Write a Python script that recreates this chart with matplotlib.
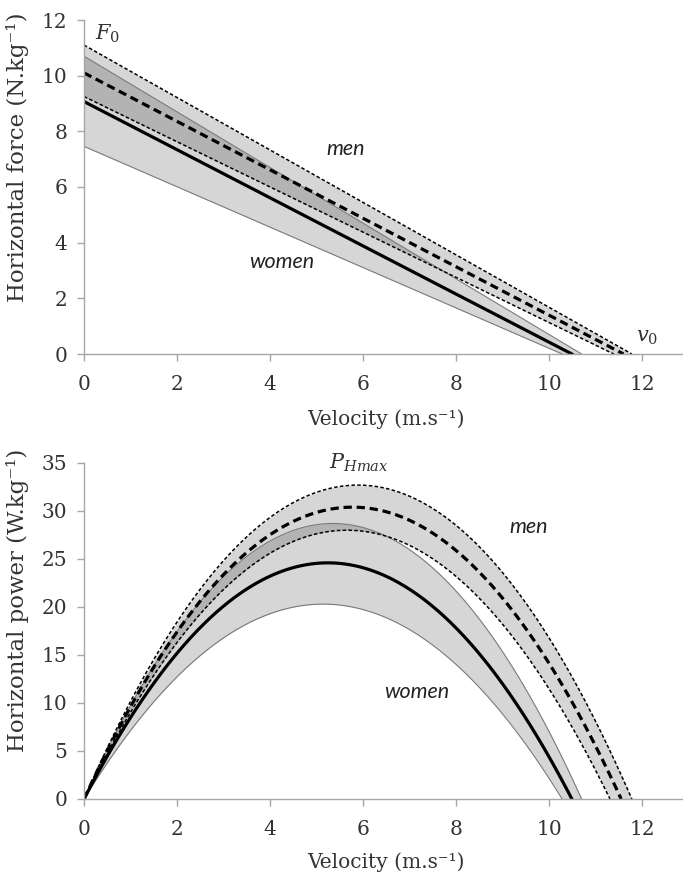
import numpy as np
import matplotlib
matplotlib.use("Agg")
import matplotlib.pyplot as plt

# ---------------- data ----------------
# Force-velocity profiles: [upper bound, mean, lower bound]
men_F0 = [11.1, 10.1, 9.25]          # N/kg
men_v0 = [11.78, 11.6, 11.39]        # m/s
women_F0 = [10.7, 9.07, 7.46]
women_v0 = [10.7, 10.49, 10.28]

# Power-velocity profiles: [upper bound, mean, lower bound]
men_Pmax = [32.7, 30.4, 28.0]        # W/kg
men_v0_P = [11.78, 11.55, 11.31]
women_Pmax = [28.7, 24.6, 20.3]
women_v0_P = [10.7, 10.49, 10.28]

x_ticks = [0, 2, 4, 6, 8, 10, 12]
force_ticks = [0, 2, 4, 6, 8, 10, 12]
power_ticks = [0, 5, 10, 15, 20, 25, 30, 35]


def force_line(F0, v0, v):
    return np.clip(F0 * (1 - v / v0), 0, None)


def power_curve(Pmax, v0, v):
    r = v / v0
    return np.clip(4 * Pmax * r * (1 - r), 0, None)


plt.rcParams['font.family'] = 'DejaVu Serif'
plt.rcParams['mathtext.fontset'] = 'dejavuserif'

W, H = 683, 877
fig = plt.figure(figsize=(W / 100, H / 100), dpi=100)
left, right = 0.123, 0.998
ax1 = fig.add_axes([left, 1 - 354 / H, right - left, (354 - 20) / H])
ax2 = fig.add_axes([left, 1 - 799 / H, right - left, (799 - 463) / H])

spine_col = '#a6a6a6'
tick_col = '#333333'
band_kw = dict(color='black', alpha=0.16, linewidth=0)
mean_lw = 2.3
men_mean_kw = dict(color='black', lw=mean_lw, linestyle=(0, (2.6, 1.5)))
men_bound_kw = dict(color='black', lw=1.1, linestyle=(0, (2.3, 1.5)))
women_mean_kw = dict(color='black', lw=mean_lw, linestyle='-')
women_bound_kw = dict(color='#7a7a7a', lw=0.8, linestyle='-')
label_kw = dict(family='Lato', style='italic', fontsize=15.5,
                ha='center', va='center', color='#222222')


def style_axes(ax, yticks, ylim, ylabel):
    ax.set_xlim(0, 12.85)
    ax.set_ylim(*ylim)
    ax.set_xticks(x_ticks)
    ax.set_yticks(yticks)
    for s in ['top', 'right']:
        ax.spines[s].set_visible(False)
    for s in ['left', 'bottom']:
        ax.spines[s].set_color(spine_col)
        ax.spines[s].set_linewidth(1.0)
    ax.tick_params(axis='both', direction='out', length=5, width=1,
                   color=spine_col, labelcolor=tick_col, labelsize=14.5)
    ax.tick_params(axis='x', pad=10)
    ax.tick_params(axis='y', pad=7)
    ax.set_ylabel(ylabel, fontsize=16.5, color=tick_col)
    ax.yaxis.set_label_coords(-0.092, 0.59)
    ax.set_xlabel('Velocity (m.s⁻¹)', fontsize=14.5, color=tick_col)


# ---------------- top: force ----------------
vgrid = np.linspace(0, max(men_v0 + women_v0), 600)
ax1.fill_between(vgrid, force_line(women_F0[2], women_v0[2], vgrid),
                 force_line(women_F0[0], women_v0[0], vgrid), **band_kw)
ax1.fill_between(vgrid, force_line(men_F0[2], men_v0[2], vgrid),
                 force_line(men_F0[0], men_v0[0], vgrid), **band_kw)
for i in (0, 2):
    v = np.linspace(0, women_v0[i], 200)
    ax1.plot(v, force_line(women_F0[i], women_v0[i], v), **women_bound_kw)
for i in (0, 2):
    v = np.linspace(0, men_v0[i], 200)
    ax1.plot(v, force_line(men_F0[i], men_v0[i], v), **men_bound_kw)
v = np.linspace(0, women_v0[1], 200)
ax1.plot(v, force_line(women_F0[1], women_v0[1], v), **women_mean_kw)
v = np.linspace(0, men_v0[1], 200)
ax1.plot(v, force_line(men_F0[1], men_v0[1], v), **men_mean_kw)

style_axes(ax1, force_ticks, (0, 12), 'Horizontal force (N.kg⁻¹)')
ax1.xaxis.set_label_coords(0.505, -0.165)
ax1.text(0.5, 11.5, r'$\mathit{F_0}$', fontsize=15, ha='center', va='center', color=tick_col)
ax1.text(12.1, 0.6, r'$\mathit{v_0}$', fontsize=15, ha='center', va='center', color=tick_col)
ax1.text(5.63, 7.36, 'men', **label_kw)
ax1.text(4.26, 3.3, 'women', **label_kw)

# ---------------- bottom: power ----------------
vgrid = np.linspace(0, max(men_v0_P + women_v0_P), 800)
ax2.fill_between(vgrid, power_curve(women_Pmax[2], women_v0_P[2], vgrid),
                 power_curve(women_Pmax[0], women_v0_P[0], vgrid), **band_kw)
ax2.fill_between(vgrid, power_curve(men_Pmax[2], men_v0_P[2], vgrid),
                 power_curve(men_Pmax[0], men_v0_P[0], vgrid), **band_kw)
for i in (0, 2):
    v = np.linspace(0, women_v0_P[i], 300)
    ax2.plot(v, power_curve(women_Pmax[i], women_v0_P[i], v), **women_bound_kw)
for i in (0, 2):
    v = np.linspace(0, men_v0_P[i], 300)
    ax2.plot(v, power_curve(men_Pmax[i], men_v0_P[i], v), **men_bound_kw)
v = np.linspace(0, women_v0_P[1], 300)
ax2.plot(v, power_curve(women_Pmax[1], women_v0_P[1], v), **women_mean_kw)
v = np.linspace(0, men_v0_P[1], 300)
ax2.plot(v, power_curve(men_Pmax[1], men_v0_P[1], v), **men_mean_kw)

style_axes(ax2, power_ticks, (0, 35), 'Horizontal power (W.kg⁻¹)')
ax2.xaxis.set_label_coords(0.505, -0.158)
ax2.text(5.9, 35.0, r'$\mathit{P_{Hmax}}$', fontsize=15, ha='center', va='center',
         color=tick_col, clip_on=False)
ax2.text(9.57, 28.3, 'men', **label_kw)
ax2.text(7.16, 11.1, 'women', **label_kw)

fig.savefig('out.png', dpi=100)
